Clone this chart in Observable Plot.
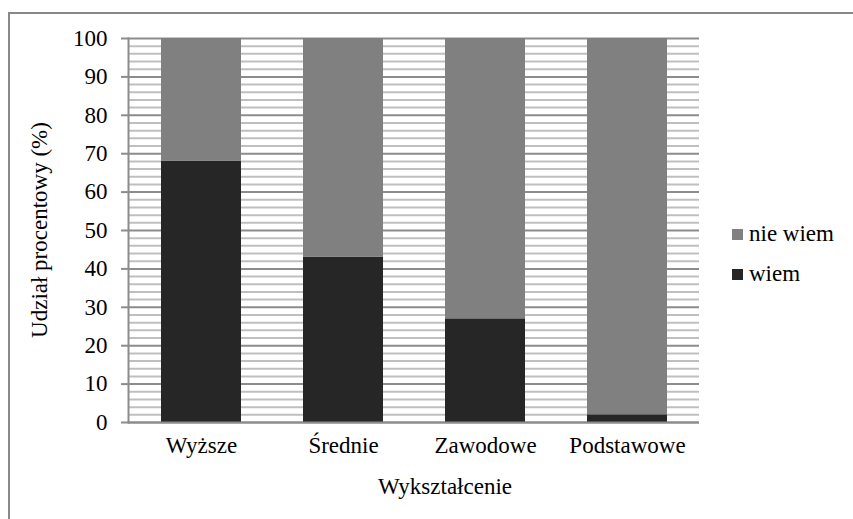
<!DOCTYPE html>
<html>
<head>
<meta charset="utf-8">
<script src="https://cdn.jsdelivr.net/npm/d3@7"></script>
<script src="https://cdn.jsdelivr.net/npm/@observablehq/plot@0.6"></script>
<style>
  html, body { margin: 0; padding: 0; background: #fff; }
  #wrap { position: relative; width: 853px; height: 519px; overflow: hidden; font-family: "Liberation Serif", "Times New Roman", serif; color: #000; }
  #border { position: absolute; left: 8px; top: 12px; width: 900px; height: 600px; border-left: 2px solid #888; border-top: 2px solid #888; box-sizing: border-box; }
  #chart { position: absolute; left: 0; top: 0; }
  .ytitle { position: absolute; left: 40px; top: 230px; transform: translate(-50%, -50%) rotate(-90deg); white-space: nowrap; font-size: 23px; }
  .xtitle { position: absolute; left: 445px; top: 487px; transform: translate(-50%, -50%); white-space: nowrap; font-size: 23px; }
  .leg { position: absolute; left: 732px; font-size: 23px; white-space: nowrap; line-height: 26px; }
  .leg span.sw { display: inline-block; width: 11px; height: 11px; margin-right: 6px; vertical-align: 1px; }
</style>
</head>
<body>
<div id="wrap">
  <div id="border"></div>
  <div id="chart"></div>
  <div class="ytitle">Udział procentowy (%)</div>
  <div class="xtitle">Wykształcenie</div>
  <div class="leg" id="leg1" style="top:221px"><span class="sw" style="background:#808080"></span>nie wiem</div>
  <div class="leg" id="leg2" style="top:261px"><span class="sw" style="background:#262626"></span>wiem</div>
</div>
<script>
const categories = ["Wyższe", "Średnie", "Zawodowe", "Podstawowe"];
const wiem = [68, 43, 27, 2];
const nieWiem = [32, 57, 73, 98];
const series = ["wiem", "nie wiem"];
const seriesColors = ["#262626", "#808080"];
const majorTicks = [0, 10, 20, 30, 40, 50, 60, 70, 80, 90, 100];
const minorTicks = [2, 4, 6, 8, 12, 14, 16, 18, 22, 24, 26, 28, 32, 34, 36, 38, 42, 44, 46, 48, 52, 54, 56, 58, 62, 64, 66, 68, 72, 74, 76, 78, 82, 84, 86, 88, 92, 94, 96, 98];

const rows = [];
categories.forEach((c, i) => {
  rows.push({kat: c, odp: "wiem", val: wiem[i]});
  rows.push({kat: c, odp: "nie wiem", val: nieWiem[i]});
});

const fontSize = 23;
const chart = Plot.plot({
  width: 853,
  height: 519,
  marginLeft: 128,
  marginRight: 154,
  marginTop: 38,
  marginBottom: 97,
  style: {fontFamily: '"Liberation Serif", "Times New Roman", serif', fontSize: fontSize + "px", background: "transparent", color: "#000"},
  x: {domain: categories, paddingInner: 0.44, paddingOuter: 0.22, label: null},
  y: {domain: [0, 100], label: null},
  color: {domain: series, range: seriesColors},
  marks: [
    Plot.ruleY(minorTicks, {stroke: "#bfbfbf", strokeWidth: 2}),
    Plot.ruleY(majorTicks, {stroke: "#8c8c8c", strokeWidth: 2}),
    Plot.axisY({ticks: majorTicks, tickSize: 7, tickPadding: 14, stroke: "#8c8c8c", strokeWidth: 2, label: null, fontSize: fontSize, fill: "#000"}),
    Plot.barY(rows, {x: "kat", y: "val", fill: "odp", z: "odp", order: series}),
    Plot.ruleY([0], {stroke: "#8c8c8c", strokeWidth: 2}),
    Plot.frame({anchor: "left", stroke: "#8c8c8c", strokeWidth: 2}),
    Plot.axisX({tickSize: 0, tickPadding: 14, label: null, fontSize: fontSize, fill: "#000"})
  ]
});
document.getElementById("chart").appendChild(chart);
</script>
</body>
</html>
